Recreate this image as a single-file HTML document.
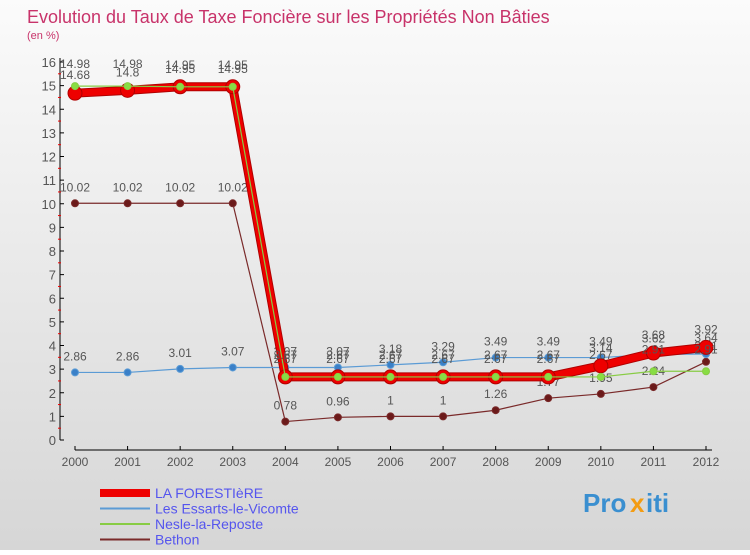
<!DOCTYPE html>
<html><head><meta charset="utf-8"><style>
body{margin:0;width:750px;height:550px;overflow:hidden;font-family:"Liberation Sans",sans-serif;}
</style></head><body>
<svg width="750" height="550" xmlns="http://www.w3.org/2000/svg">
<defs><linearGradient id="bg" x1="0" y1="0" x2="0" y2="1"><stop offset="0" stop-color="#fbfbfb"/><stop offset="1" stop-color="#d6d6d6"/></linearGradient></defs>
<rect width="750" height="550" fill="url(#bg)"/>
<text x="27" y="23" font-size="18" fill="#c8336a">Evolution du Taux de Taxe Foncière sur les Propriétés Non Bâties</text>
<text x="27" y="39" font-size="11" fill="#c8336a">(en %)</text>
<g id="axes"></g>
<g id="series"></g>
<g id="legend" font-size="14"></g>
<g font-size="26" font-weight="bold">
<text x="583" y="512" fill="#3a8fd0">Pro</text><text x="630" y="512" fill="#f39c12">x</text><text x="646" y="512" fill="#3a8fd0">iti</text>
</g>
</svg>
<script>
const years=[2000,2001,2002,2003,2004,2005,2006,2007,2008,2009,2010,2011,2012];
const yTicks=[0,1,2,3,4,5,6,7,8,9,10,11,12,13,14,15,16];
const laForestiere=[14.68,14.8,14.95,14.95,2.67,2.67,2.67,2.67,2.67,2.67,3.14,3.68,3.92];
const essarts=[2.86,2.86,3.01,3.07,3.07,3.07,3.18,3.29,3.49,3.49,3.49,3.62,3.64];
const nesle=[14.98,14.98,14.95,14.95,2.67,2.67,2.67,2.67,2.67,2.67,2.67,2.91,2.91];
const bethon=[10.02,10.02,10.02,10.02,0.78,0.96,1,1,1.26,1.77,1.95,2.24,3.31];
const ns="http://www.w3.org/2000/svg";
const X=i=>75+i*(706-75)/(years.length-1);
const Y=v=>440-v*(440-62)/16;
function mk(t,a,p){const e=document.createElementNS(ns,t);for(const k in a)e.setAttribute(k,a[k]);p.appendChild(e);return e;}
const ax=document.getElementById('axes');
mk('line',{x1:60,y1:58,x2:60,y2:440,stroke:'#000','stroke-width':1},ax);
mk('line',{x1:75,y1:450,x2:712,y2:450,stroke:'#000','stroke-width':1},ax);
yTicks.forEach(v=>{
 const t=mk('text',{x:56,y:Y(v)+5,'text-anchor':'end','font-size':13,fill:'#555'},ax);t.textContent=v;
 
 
 mk('line',{x1:60,y1:Y(v),x2:64,y2:Y(v),stroke:'#000'},ax);
 if(v<16)mk('line',{x1:58,y1:Y(v+0.5),x2:61,y2:Y(v+0.5),stroke:'#e00'},ax);
});
years.forEach((yr,i)=>{
 const t=mk('text',{x:X(i),y:466,'text-anchor':'middle','font-size':12,fill:'#555'},ax);t.textContent=yr;
 
 
 mk('line',{x1:X(i),y1:446,x2:X(i),y2:450,stroke:'#000'},ax);
});
const sg=document.getElementById('series');
function draw(vals,color,w,r,dot,name,lab,edge){
 const g=mk('g',{},sg);
 
 
 const pts=vals.map((v,i)=>X(i)+','+Y(v)).join(' ');
 if(edge)mk('polyline',{points:pts,fill:'none',stroke:edge,'stroke-width':w+2,'stroke-linejoin':'round'},g);
 mk('polyline',{points:pts,fill:'none',stroke:color,'stroke-width':w,'stroke-linejoin':'round'},g);
 vals.forEach((v,i)=>{
  const c=mk('circle',{cx:X(i),cy:Y(v),r:r,fill:dot,stroke:edge||color,'stroke-width':1},g);
  
  
  if(lab){const t=mk('text',{x:X(i),y:Y(v)-lab,'text-anchor':'middle','font-size':12,fill:'#555'},g);t.textContent=v;}
 });
}
draw(bethon,'#7a2a2a',1.2,3.5,'#6b1a1a','series-bethon',12);
draw(essarts,'#5b9bd5',1.2,3.5,'#3a80c8','series-essarts',12);
draw(laForestiere,'#ee0000',7,7,'#ee0000','series-la-forestiere',14,'#b00000');
draw(nesle,'#88cc44',1.2,3.5,'#88dd44','series-nesle',18);
const lg=document.getElementById('legend');
const items=[['LA FORESTIèRE','#ee0000',8],['Les Essarts-le-Vicomte','#5b9bd5',2],['Nesle-la-Reposte','#88cc44',2],['Bethon','#7a2a2a',2]];
items.forEach((it,i)=>{
 const y=493+i*15.5;
 const g=mk('g',{},lg);
 
 
 mk('line',{x1:100,y1:y,x2:150,y2:y,stroke:it[1],'stroke-width':it[2]},g);
 const t=mk('text',{x:155,y:y+5,fill:'#5555ee','font-size':14},g);t.textContent=it[0];
});
</script>
</body></html>
